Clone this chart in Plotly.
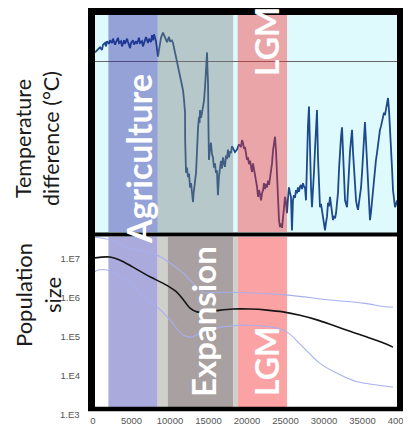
import plotly.graph_objects as go

# ---------------- data ----------------
# Temperature record (years before present, temperature difference in °C)
temp_years = [260, 520, 780, 910, 1170, 1300, 1560, 1690, 1820, 2080, 2210, 2470, 2600, 2860, 2990,
              3250, 3380, 3640, 3770, 4030, 4160, 4420, 4550, 4810, 4940, 5200, 5330, 5580, 5710,
              5970, 6100, 6360, 6490, 6750, 6880, 7140, 7270, 7530, 7660, 7790, 7920, 8180, 8310,
              8440, 8570, 8700, 8830, 9090, 9220, 9480, 9610, 9870, 10000, 10260, 10390, 10650,
              11040, 11430, 11560, 11690, 11820, 11950, 11970,
              12000, 12080, 12200, 12340, 12470, 12600, 12730, 12860, 12990, 13050, 13120, 13250,
              13380, 13450, 13510, 13640, 13770, 13840, 13900, 14030, 14160, 14290, 14420, 14550,
              14620, 14680, 14750, 14810, 14870, 14940, 15000, 15060, 15190, 15320, 15450, 15580,
              15710, 15840, 15970, 16100, 16160, 16230, 16360, 16490, 16620, 16750, 16880, 17010,
              17140, 17270, 17400, 17530, 17660, 17790, 17920, 18050, 18180, 18440, 18700, 18960,
              19220, 19350, 19480, 19610, 19740, 19870, 20000, 20130, 20260, 20390, 20520, 20650,
              20780, 20910, 21040, 21170, 21300, 21430, 21560, 21690, 21820, 21950, 22080, 22210,
              22340, 22470, 22600, 22730, 22860, 22990, 23120, 23250, 23380, 23510, 23640, 23770,
              23900, 24030, 24160, 24290, 24420, 24550, 24680, 24810, 24940, 25060, 25190, 25320,
              25450, 25580, 25710, 25840, 25970, 26100, 26230, 26360, 26490, 26620, 26750, 26880,
              27010, 27140, 27270, 27400, 27530, 27660, 27790, 27920, 28050, 28180, 28310, 28440,
              28570, 28700, 28830, 28960, 29090, 29220, 29350, 29480, 29610, 29740, 29870, 30000,
              30130, 30260, 30390, 30520, 30650, 30780, 30910, 31040, 31170, 31300, 31430, 31560,
              31690, 31820, 31950, 32080, 32210, 32340, 32470, 32600, 32730, 32860, 32990, 33120,
              33250, 33380, 33510, 33640, 33770, 33900, 34030, 34160, 34290, 34420, 34550, 34680,
              34810, 34940, 35060, 35190, 35320, 35450, 35580, 35710, 35840, 35970, 36100, 36230,
              36360, 36490, 36620, 36750, 36880, 37010, 37140, 37270, 37400, 37530, 37660, 37790,
              37920, 38050, 38180, 38310, 38440, 38570, 38700, 38830, 38960, 39090, 39220, 39350,
              39480]
temp_values = [1.0, 1.2, 1.4, 1.6, 1.3, 1.9, 2.1, 1.7, 2.3, 2.0, 2.4, 2.1, 2.6, 1.9, 2.2,
               2.7, 2.1, 2.3, 1.7, 2.4, 2.0, 2.6, 2.2, 1.5, 2.1, 2.4, 1.9, 2.3, 2.0,
               2.7, 2.1, 2.3, 1.7, 2.4, 2.8, 2.1, 2.6, 2.2, 3.0, 2.4, 3.1, 2.3, 1.6,
               0.5, 1.3, 2.0, 2.7, 3.3, 3.0, 2.6, 2.2, 2.8, 2.3, 2.4, 2.1, 1.0,
               -0.7, -2.2, -3.0, -3.4, -4.5, -6.0, -9.2,
               -12.7, -13.0, -12.4, -13.5, -13.1, -14.7, -14.2, -15.8, -16.4, -15.5, -14.7, -14.0,
               -13.0, -11.0, -9.5, -7.8, -6.5, -7.2, -5.7, -6.6, -6.0, -5.3, -4.6, -3.0,
               -1.5, -0.7, 0.3, 1.0, -1.0, -2.6, -8.0, -11.5, -10.2, -9.5, -10.8, -11.2,
               -12.4, -11.9, -13.0, -12.7, -14.2, -15.6, -13.4, -12.3, -11.6, -12.5, -11.2, -11.9,
               -12.3, -11.0, -11.4, -10.3, -11.2, -10.5, -10.7, -9.9, -10.1, -10.6, -10.3, -9.7,
               -10.0, -9.2, -9.5, -10.2, -10.0, -10.7, -11.5, -11.2, -12.0, -11.6, -12.3, -12.9,
               -11.9, -12.6, -13.2, -13.8, -14.6, -15.8, -15.0, -15.5, -16.2, -15.4, -15.0, -14.2,
               -14.9, -14.3, -14.7, -13.9, -14.4, -13.6, -12.8, -11.9, -10.4, -9.2, -8.8, -10.5,
               -13.0, -17.0, -18.6, -19.3, -18.9, -19.4, -18.2, -17.0, -15.8, -16.4, -17.7, -16.0,
               -14.7, -15.3, -15.8, -19.7, -16.2, -15.6, -15.9, -15.0, -15.4, -14.7, -15.2, -14.6,
               -14.4, -14.9, -14.2, -14.6, -14.7, -16.2, -10.3, -7.5, -5.3, -11.5, -14.6, -17.0,
               -15.3, -12.9, -10.3, -7.6, -5.7, -11.2, -15.0, -17.0, -16.6, -17.3, -18.5, -18.9,
               -19.7, -18.8, -18.1, -16.5, -16.9, -15.8, -16.6, -17.7, -18.5, -18.0, -18.3, -17.7,
               -16.8, -15.3, -12.6, -10.3, -8.8, -7.7, -10.0, -13.6, -16.2, -16.6, -17.0, -14.9,
               -12.3, -10.5, -9.2, -8.0, -10.6, -13.0, -15.0, -16.2, -16.9, -17.3, -16.4, -15.6,
               -14.7, -13.0, -11.5, -9.0, -7.1, -9.3, -11.5, -14.8, -17.0, -18.5, -17.6, -16.2,
               -14.8, -13.8, -12.4, -11.5, -10.7, -9.5, -8.4, -8.0, -7.6, -6.9, -6.6, -6.0,
               -6.3, -5.5, -5.1, -4.3, -5.7, -7.5, -9.5, -12.4, -15.0, -16.4, -17.0, -16.7,
               -16.2]

# Population size (median and confidence bounds)
median_years = [260, 2210, 3510, 5190, 7400, 9610, 10910, 11950, 12600, 13510, 14550, 15840,
                18180, 20390, 22600, 24680, 26880, 29090, 31170, 33380, 35580, 37660, 38960]
median_pop = [1.07e7, 1.12e7, 9.3e6, 6.2e6, 3.5e6, 2.1e6, 1.4e6, 7.9e5, 5.5e5, 4.4e5, 4.4e5, 4.7e5,
              5.2e5, 5.2e5, 4.9e5, 4.4e5, 3.6e5, 2.75e5, 2.0e5, 1.4e5, 1.0e5, 7.1e4, 5.5e4]
upper_years = [260, 2210, 4420, 8310, 10000, 11690, 12990, 14290, 16100, 17790, 24940, 30780,
               35060, 38180, 38960]
upper_pop = [3.6e7, 3.1e7, 2.0e7, 1.26e7, 7.9e6, 4.4e6, 2.4e6, 1.4e6, 1.4e6, 1.4e6, 1.2e6, 8.9e5,
             7.4e5, 5.9e5, 5.9e5]
lower_years = [260, 650, 1820, 3120, 4810, 6490, 8310, 10000, 11690, 12860, 13900, 16100, 19090,
               20390, 23900, 25190, 27270, 29480, 32080, 34290, 36880, 38960]
lower_pop = [4.7e6, 5.2e6, 5.2e6, 3.9e6, 2.4e6, 1.07e6, 5.9e5, 2.75e5, 1.12e5, 1.0e5, 1.26e5, 1.7e5,
             2.0e5, 2.0e5, 1.7e5, 1.35e5, 5.5e4, 2.1e4, 1.07e4, 7.1e3, 5.9e3, 5.2e3]

# Periods (years before present)
agri_span = [2000, 8400]
late_glacial_span = [8400, 18200]
expansion_edge_span = [8400, 9700]
expansion_span = [9700, 18200]
gap_span = [18200, 18800]
lgm_span = [18800, 25200]

x_tick_vals = [0, 5000, 10000, 15000, 20000, 25000, 30000, 35000, 40000]
x_tick_text = ["0", "5000", "10000", "15000", "20000", "25000", "30000", "35000", "40000"]
y_tick_vals = [1e4, 1e5, 1e6, 1e7]
y_tick_text = ["1.E4", "1.E5", "1.E6", "1.E7"]

# ---------------- figure ----------------
# The page body has an 8px margin, so the figure is placed at (8, 8) in the window.
OFF = 8
W, H = 411 - OFF, 425 - OFF
def px(x):
    return (x - OFF) / W
def py(y):
    return 1 - (y - OFF) / H

fig = go.Figure()

fig.add_trace(go.Scatter(x=temp_years, y=temp_values, mode="lines",
                         line=dict(color="#1d4a8c", width=1.8), xaxis="x", yaxis="y",
                         showlegend=False, hoverinfo="skip"))
fig.add_trace(go.Scatter(x=upper_years, y=upper_pop, mode="lines", line_shape="spline",
                         line=dict(color="#a7afee", width=1.1), xaxis="x2", yaxis="y2",
                         showlegend=False))
fig.add_trace(go.Scatter(x=lower_years, y=lower_pop, mode="lines", line_shape="spline",
                         line=dict(color="#a7afee", width=1.1), xaxis="x2", yaxis="y2",
                         showlegend=False))
fig.add_trace(go.Scatter(x=median_years, y=median_pop, mode="lines", line_shape="spline",
                         line=dict(color="#151515", width=1.6), xaxis="x2", yaxis="y2",
                         showlegend=False))

shapes = []
# top panel background
shapes.append(dict(type="rect", xref="paper", yref="paper", x0=px(93), x1=px(401), y0=py(234), y1=py(11),
                   fillcolor="#dffafd", line_width=0, layer="below"))
# top bands (translucent, above curve)
for span, col in [(agri_span, "rgba(34,31,160,0.40)"),
                  (late_glacial_span, "rgba(119,126,123,0.40)"),
                  (lgm_span, "rgba(249,38,40,0.40)")]:
    shapes.append(dict(type="rect", xref="x", yref="y domain", x0=span[0], x1=span[1], y0=0, y1=1,
                       fillcolor=col, line_width=0, layer="above"))
# bottom bands
for span, col in [(agri_span, "#aaaadd"),
                  (expansion_edge_span, "#cfcfcb"),
                  (expansion_span, "#a9a1a1"),
                  (gap_span, "#cfcfcb"),
                  (lgm_span, "#fba2a5")]:
    shapes.append(dict(type="rect", xref="x2", yref="y2 domain", x0=span[0], x1=span[1], y0=0, y1=1,
                       fillcolor=col, line_width=0, layer="below"))
# frames
for (x0, y0, x1, y1, w) in [(91.5, 8, 91.5, 411, 7), (400.5, 8, 400.5, 411, 7),
                            (88, 11.5, 404, 11.5, 7), (88, 234.5, 404, 234.5, 4),
                            (88, 409, 404, 409, 4.5)]:
    shapes.append(dict(type="line", xref="paper", yref="paper", x0=px(x0), x1=px(x1),
                       y0=py(y0), y1=py(y1), line=dict(color="black", width=w), layer="above"))

band_font = dict(family="Lato", size=34, color="white", weight="bold")
annotations = [
    dict(text="Agriculture", x=px(138), y=py(159), textangle=-90, font=band_font),
    dict(text="LGM", x=px(266), y=py(42), textangle=-90, font=dict(band_font, size=32)),
    dict(text="Expansion", x=px(203), y=py(322), textangle=-90, font=dict(band_font, size=33)),
    dict(text="LGM", x=px(266), y=py(362), textangle=-90, font=dict(band_font, size=32)),
    dict(text="Temperature<br>difference (°C)", x=px(37), y=py(139), textangle=-90,
         font=dict(family="Lato", size=21.5, color="#1a1a1a")),
    dict(text="Population<br>size", x=px(38), y=py(295), textangle=-90,
         font=dict(family="Lato", size=22, color="#1a1a1a")),
    dict(text="1.E3", x=px(82), y=py(414), xanchor="right",
         font=dict(family="Liberation Sans", size=9.5, color="#555555")),
]
for a in annotations:
    a.update(xref="paper", yref="paper", showarrow=False)
    a.setdefault("xanchor", "center")
    a.setdefault("yanchor", "middle")

fig.update_layout(
    width=W, height=H, margin=dict(l=0, r=0, t=0, b=0, autoexpand=False),
    paper_bgcolor="white", plot_bgcolor="white",
    showlegend=False,
    shapes=shapes, annotations=annotations,
    xaxis=dict(domain=[px(93), px(401)], range=[0, 40000], showticklabels=False,
               showgrid=False, zeroline=False, anchor="y", automargin=False),
    yaxis=dict(domain=[py(232), py(15)], range=[-19.88, 5.35], showticklabels=False,
               showgrid=False, zeroline=True, zerolinecolor="#666666", zerolinewidth=1,
               side="right", ticks="inside", tickvals=[-10], ticklen=4, tickcolor="#777777",
               anchor="x", automargin=False),
    xaxis2=dict(domain=[px(93), px(401)], range=[0, 40000], tickvals=x_tick_vals,
                ticktext=x_tick_text, showgrid=False, zeroline=False, ticks="",
                tickfont=dict(family="Liberation Sans", size=9.5, color="#555555"),
                ticklabelstandoff=6, ticklabeloverflow="allow", anchor="y2", automargin=False),
    yaxis2=dict(domain=[py(407), py(237)], type="log", range=[3.205, 7.564],
                tickvals=y_tick_vals, ticktext=y_tick_text, showgrid=False, zeroline=False,
                ticks="", tickfont=dict(family="Liberation Sans", size=9.5, color="#555555"),
                ticklabelstandoff=12, anchor="x2", automargin=False),
)

fig.write_html("out.html")
